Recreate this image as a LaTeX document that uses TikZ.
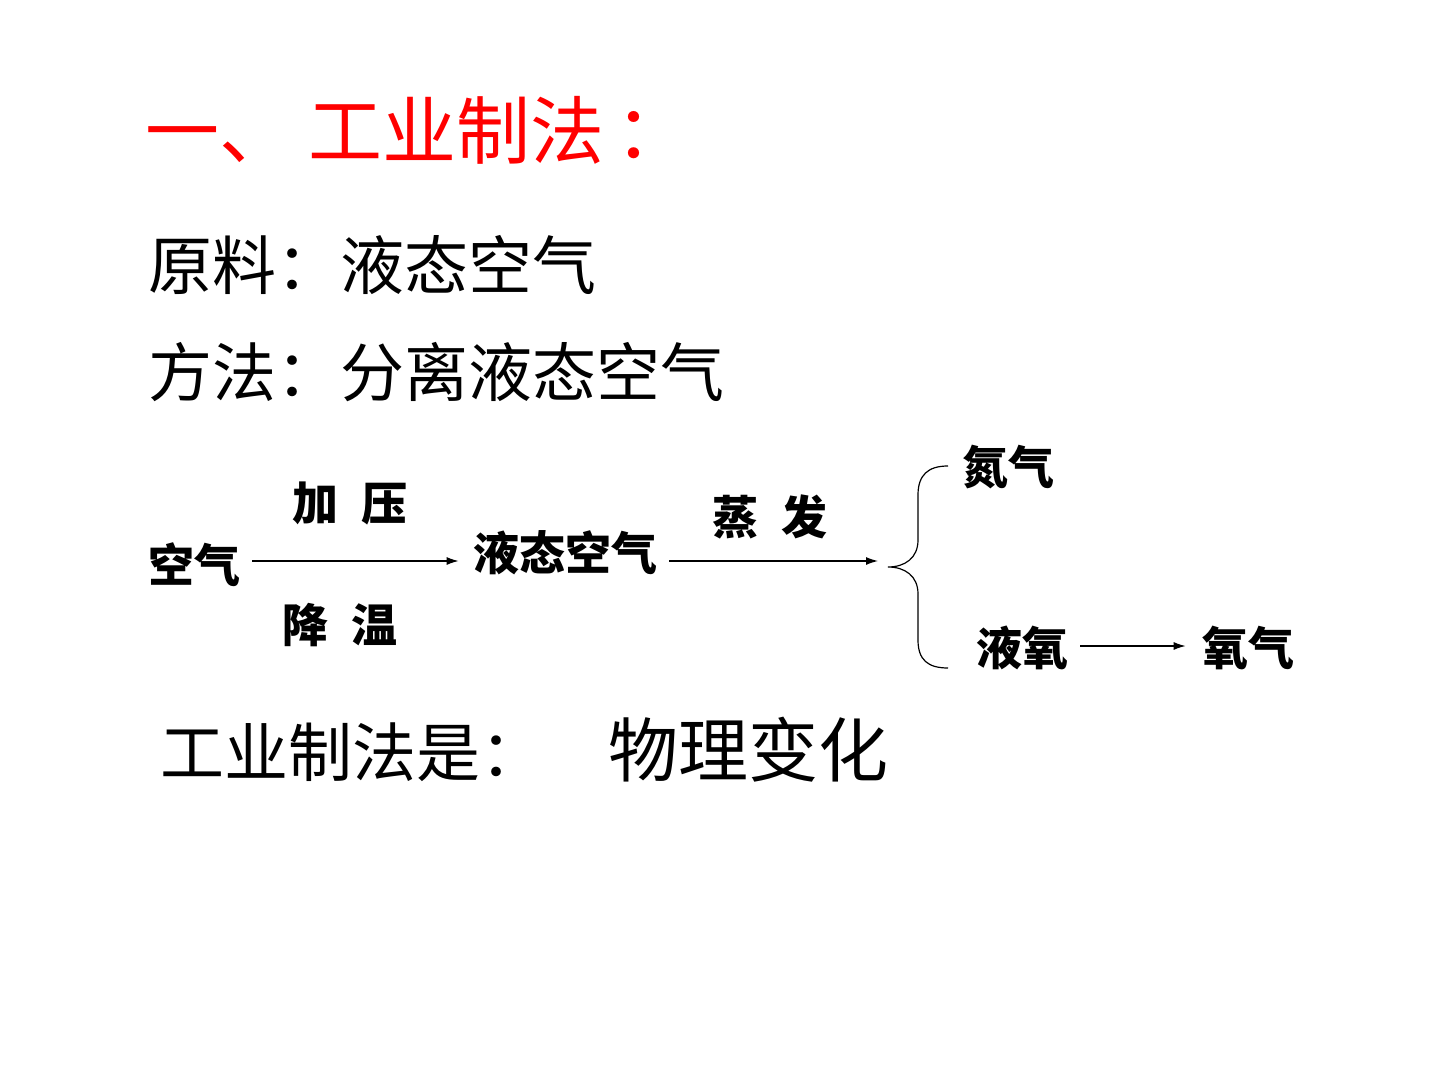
\documentclass[tikz,border=0pt]{standalone}
\usepackage{fontspec}
\newfontfamily\cjk{Noto Sans CJK SC}
\usetikzlibrary{arrows.meta}
\begin{document}
\begin{tikzpicture}[x=0.5pt,y=-0.5pt,
    title/.style={font=\cjk\fontsize{37}{40}\selectfont,text=red,anchor=west,inner sep=0pt},
    line/.style={font=\cjk\fontsize{32}{36}\selectfont,anchor=west,inner sep=0pt},
    step label/.style={font=\cjk\bfseries\fontsize{23}{26}\selectfont,inner sep=0pt},
    flow/.style={-{Latex[length=6pt,width=4pt]},line width=0.6pt}]
    \useasboundingbox (0,0) rectangle (1440,1080);

    \node[title] (head) at (145,130) {一、\hspace{0.2em}工业制法\hspace{0.15em}：};
    \node[line] (raw) at (148,265) {原料：液态空气};
    \node[line] (way) at (148,372) {方法：分离液态空气};

    \node[step label] (air) at (194,565) {空气};
    \node[step label] (press) at (350,503) {加\hspace{0.5em}压};
    \node[step label] (cool) at (340,625) {降\hspace{0.5em}温};
    \node[step label] (liqair) at (565,553) {液态空气};
    \node[step label] (boil) at (770,517) {蒸\hspace{0.5em}发};
    \coordinate (fork) at (878,561);
    \node[step label] (nitro) at (1008,467) {氮气};
    \node[step label] (liqox) at (1022,648) {液氧};
    \node[step label] (oxy) at (1248,648) {氧气};

    \node[line] (kind) at (160,752) {工业制法是：};
    \node[line,font=\cjk\fontsize{35}{40}\selectfont] (phys) at (608,750) {物理变化};

    \draw[flow] ([xshift=6pt]air.east |- fork) -- ([xshift=-7pt]liqair.west |- fork);
    \draw[flow] ([xshift=6pt]liqair.east |- fork) -- (fork);
    \draw[flow] ([xshift=6pt]liqox.east |- 0,646) -- ([xshift=-8pt]oxy.west |- 0,646);

    % brace
    \draw[line width=0.6pt] (948,466) .. controls (928,466) and (918,475) .. (918,495)
        -- (918,540) .. controls (918,558) and (905,567) .. (888,567)
        .. controls (905,567) and (918,576) .. (918,594)
        -- (918,640) .. controls (918,660) and (928,668) .. (948,668);
\end{tikzpicture}
\end{document}
